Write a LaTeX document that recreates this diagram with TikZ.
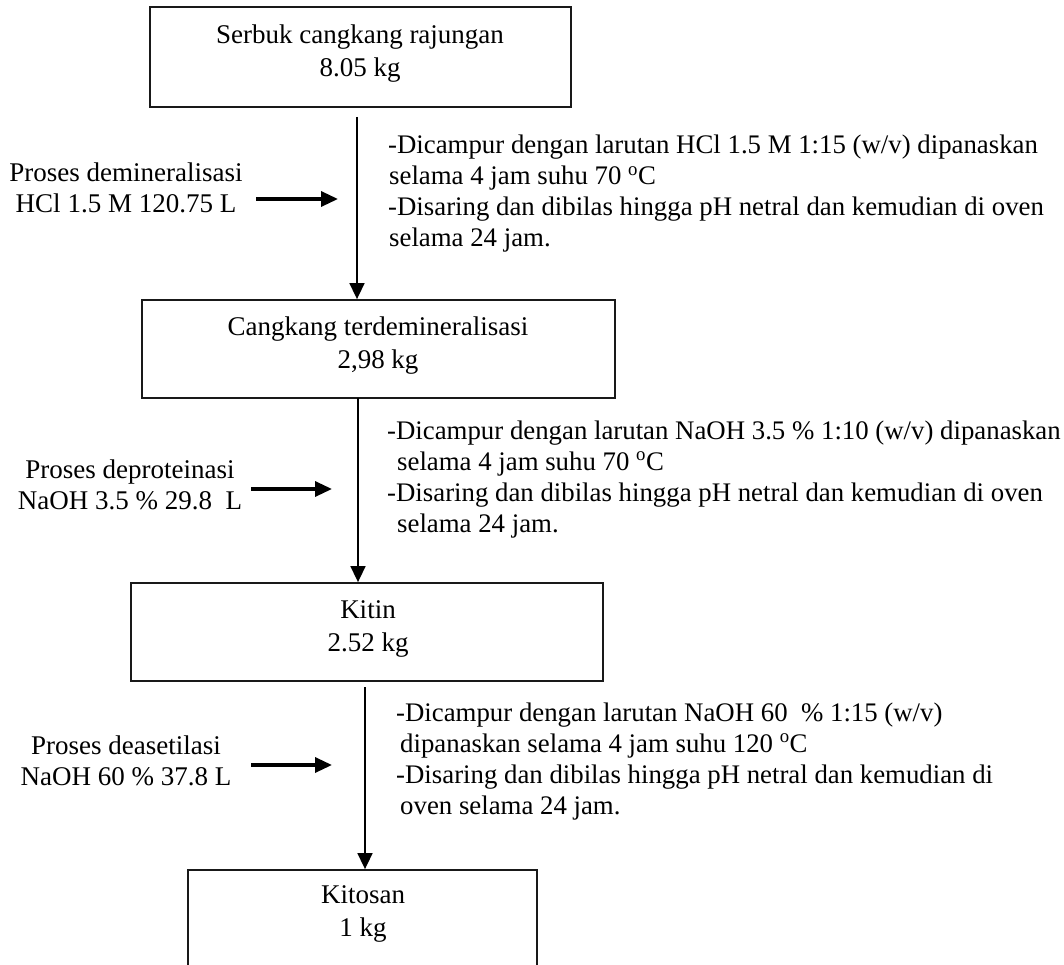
\documentclass[tikz,border=0pt]{standalone}
\usepackage{fontspec}
\setmainfont{Liberation Serif}
\usetikzlibrary{arrows.meta}
\begin{document}
\begin{tikzpicture}[x=1pt,y=-1pt,
  box/.style={draw=black!90, line width=1.8pt, fill=white, inner sep=0pt},
  boxtext/.style={align=center, inner sep=0pt, font=\fontsize{27}{33}\selectfont},
  sidetext/.style={align=center, inner sep=0pt, font=\fontsize{27}{31}\selectfont},
  steptext/.style={anchor=base west, inner sep=0pt, font=\fontsize{26.8}{31}\selectfont},
  varrow/.style={line width=1.6pt, -{Triangle[length=16pt,width=15pt]}},
  harrow/.style={line width=3.3pt, -{Triangle[length=17pt,width=15pt]}}
]
\useasboundingbox (0,0) rectangle (1064,965);
\clip (0,0) rectangle (1064,965);
\fill[white] (0,0) rectangle (1064,965);

% boxes
\node[box, minimum width=421pt, minimum height=100pt] (b1) at (360.5,57) {};
\node[box, minimum width=473pt, minimum height=98pt] (b2) at (378.5,349) {};
\node[box, minimum width=472pt, minimum height=98pt] (b3) at (367,632) {};
\node[box, minimum width=349pt, minimum height=110pt] (b4) at (362.5,925) {};

\node[boxtext] (l1) at (360,53.5) {Serbuk cangkang rajungan\\8.05 kg};
\node[boxtext] (l2) at (378,345.5) {Cangkang terdemineralisasi\\2,98 kg};
\node[boxtext] (l3) at (368,628.5) {Kitin\\2.52 kg};
\node[boxtext] (l4) at (363,913.5) {Kitosan\\1 kg};

% vertical flow
\coordinate (s1) at (357,117);
\coordinate (s2) at (358,398);
\coordinate (s3) at (365,687);
\draw[varrow] (s1) -- (s1 |- b2.north);
\draw[varrow] (s2) -- (s2 |- b3.north);
\draw[varrow] (s3) -- (s3 |- b4.north);

% left side inputs
\node[sidetext] (p1) at (126,188) {Proses demineralisasi\\HCl 1.5 M 120.75 L};
\node[sidetext] (p2) at (130,485) {Proses deproteinasi\\NaOH 3.5 \% 29.8~~L};
\node[sidetext] (p3) at (126,761) {Proses deasetilasi\\NaOH 60 \% 37.8 L};

\coordinate (h1a) at (256,199);
\coordinate (h1b) at (338,199);
\coordinate (h2a) at (251,489);
\coordinate (h2b) at (332,489);
\coordinate (h3a) at (251,765);
\coordinate (h3b) at (332,765);
\draw[harrow] (h1a) -- (h1b);
\draw[harrow] (h2a) -- (h2b);
\draw[harrow] (h3a) -- (h3b);

% step descriptions
\node[steptext] (d1) at (388,154) {\begin{tabular}[t]{@{}l@{}}-Dicampur dengan larutan HCl 1.5 M 1:15 (w/v) dipanaskan\\
\hspace{1pt}selama 4 jam suhu 70~\textsuperscript{o}C\\
-Disaring dan dibilas hingga pH netral dan kemudian di oven\\
\hspace{1pt}selama 24 jam.\end{tabular}};
\node[steptext] (d2) at (387,439) {\begin{tabular}[t]{@{}l@{}}-Dicampur dengan larutan NaOH 3.5 \% 1:10 (w/v) dipanaskan\\
\hspace{10pt}selama 4 jam suhu 70~\textsuperscript{o}C\\
-Disaring dan dibilas hingga pH netral dan kemudian di oven\\
\hspace{10pt}selama 24 jam.\end{tabular}};
\node[steptext] (d3) at (396,721) {\begin{tabular}[t]{@{}l@{}}-Dicampur dengan larutan NaOH 60~~\% 1:15 (w/v)\\
\hspace{4pt}dipanaskan selama 4 jam suhu 120~\textsuperscript{o}C\\
-Disaring dan dibilas hingga pH netral dan kemudian di\\
\hspace{4pt}oven selama 24 jam.\end{tabular}};
\end{tikzpicture}
\end{document}
